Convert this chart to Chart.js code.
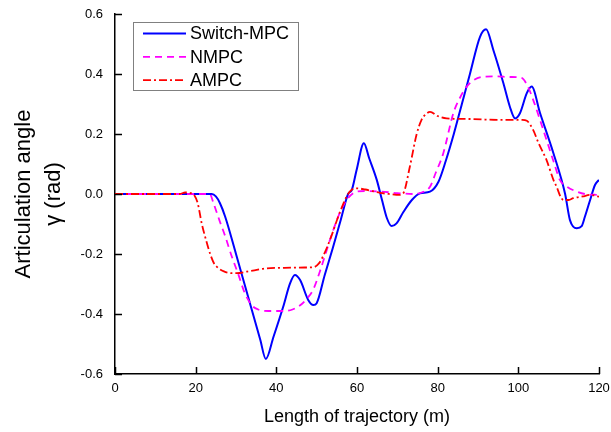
<!DOCTYPE html>
<html>
<head>
<meta charset="utf-8">
<script src="https://cdn.jsdelivr.net/npm/chart.js@4.4.1/dist/chart.umd.min.js"></script>
<style>
  html, body { margin: 0; padding: 0; background: #fff; }
  #wrap { width: 611px; height: 432px; }
</style>
</head>
<body>
<div id="wrap"><canvas id="angleChart" width="611" height="432"></canvas></div>
<script>
// axis ticks
const xTicks = [0, 20, 40, 60, 80, 100, 120];
const yTicks = [-0.6, -0.4, -0.2, 0.0, 0.2, 0.4, 0.6];

// Switch-MPC
const swX = [0, 24, 25, 26, 27.3, 30, 32, 34, 36, 37.4, 39.3, 41.7, 43.4, 44.6, 45.9, 47.9, 49.2, 50, 52, 54, 56, 57.8, 58.7, 59.9, 61.7, 63, 64.9, 66.2, 67.4, 68.6, 69.8, 71.5, 73.6, 75.6, 78.1, 80.2, 82, 84, 86, 88, 90.5, 92, 93.8, 96.3, 97.9, 99.2, 100.4, 102.1, 103.3, 105.4, 108.7, 111.6, 112.8, 114.5, 115.7, 116.5, 117.8, 119, 120];
const swY = [0, 0, -0.008, -0.03, -0.075, -0.2, -0.295, -0.39, -0.485, -0.55, -0.476, -0.376, -0.298, -0.27, -0.287, -0.353, -0.37, -0.364, -0.27, -0.18, -0.085, 0, 0.013, 0.08, 0.169, 0.12, 0.047, -0.02, -0.08, -0.107, -0.098, -0.06, -0.02, 0.002, 0.008, 0.041, 0.11, 0.2, 0.3, 0.4, 0.524, 0.549, 0.48, 0.369, 0.291, 0.252, 0.269, 0.336, 0.358, 0.269, 0.136, 0, -0.087, -0.114, -0.107, -0.076, -0.02, 0.03, 0.047];

// NMPC
const nmX = [0, 23.5, 24.4, 26, 27.3, 29, 30.5, 32.2, 34, 35.5, 38, 42, 44, 46, 47.5, 49.1, 51, 53.3, 55.5, 57.4, 59.9, 62, 66, 70, 74, 76, 78.1, 79.5, 81.4, 83.9, 85.5, 87.2, 89, 91.3, 94, 98, 100.8, 102.3, 103.7, 105.3, 107, 108.7, 110.3, 112, 114.5, 116.5, 120];
const nmY = [0, 0, -0.03, -0.092, -0.14, -0.21, -0.265, -0.331, -0.372, -0.385, -0.39, -0.39, -0.385, -0.37, -0.35, -0.32, -0.25, -0.153, -0.07, -0.02, 0.008, 0.01, 0.008, 0.003, 0, 0.005, 0.024, 0.07, 0.136, 0.27, 0.32, 0.358, 0.38, 0.391, 0.392, 0.39, 0.387, 0.36, 0.313, 0.25, 0.18, 0.11, 0.047, 0.025, 0.008, 0, -0.003];

// AMPC
const amX = [0, 16, 17.4, 19, 19.7, 20.5, 21.5, 22.5, 23.6, 24.5, 25.2, 27, 29, 30.2, 33, 37.6, 42, 47, 49.2, 50.5, 51.5, 53.3, 55.5, 57.4, 58.5, 59.9, 62, 65.7, 68, 70.5, 71.5, 73.1, 74.8, 76, 77, 78.1, 80, 82.2, 88, 95, 101, 102.1, 103.7, 105, 107, 108.7, 109.5, 110.5, 111.2, 112.5, 113.6, 116, 117.8, 119, 120];
const amY = [0, 0, 0.005, 0.002, -0.005, -0.03, -0.098, -0.15, -0.2, -0.23, -0.242, -0.258, -0.264, -0.264, -0.258, -0.248, -0.246, -0.245, -0.244, -0.232, -0.21, -0.153, -0.07, -0.009, 0.012, 0.019, 0.015, 0.004, 0, -0.003, 0.003, 0.091, 0.2, 0.247, 0.265, 0.274, 0.26, 0.252, 0.25, 0.247, 0.247, 0.244, 0.213, 0.17, 0.113, 0.047, 0.024, -0.01, -0.02, -0.02, -0.014, -0.008, -0.003, -0.005, -0.009];

const toPoints = (xs, ys) => xs.map((x, i) => ({ x: x, y: ys[i] }));

// ticks pointing into the plot area
const innerTicks = {
    id: 'innerTicks',
    afterDraw(chart) {
        const { ctx, chartArea, scales } = chart;
        ctx.save();
        ctx.strokeStyle = '#000';
        ctx.lineWidth = 1.5;
        ctx.beginPath();
        xTicks.forEach(v => {
            const px = Math.round(scales.x.getPixelForValue(v)) + 0.5;
            ctx.moveTo(px, chartArea.bottom);
            ctx.lineTo(px, chartArea.bottom - 7);
        });
        yTicks.forEach(v => {
            const py = Math.round(scales.y.getPixelForValue(v)) + 0.5;
            ctx.moveTo(chartArea.left, py);
            ctx.lineTo(chartArea.left + 7, py);
        });
        ctx.stroke();
        ctx.restore();
    }
};

// boxed legend with line samples
const lineLegend = {
    id: 'lineLegend',
    afterDraw(chart) {
        const ctx = chart.ctx;
        const box = { left: 133, top: 22, right: 298, bottom: 90 };
        ctx.save();
        ctx.fillStyle = '#fff';
        ctx.fillRect(box.left, box.top, box.right - box.left, box.bottom - box.top);
        ctx.strokeStyle = '#808080';
        ctx.lineWidth = 1;
        ctx.strokeRect(box.left + 0.5, box.top + 0.5, box.right - box.left, box.bottom - box.top);
        ctx.font = '18px "Liberation Sans", Arial, sans-serif';
        ctx.textBaseline = 'middle';
        ctx.fillStyle = '#000';
        chart.data.datasets.forEach((ds, i) => {
            const y = 33.5 + i * 23.3;
            ctx.beginPath();
            ctx.strokeStyle = ds.borderColor;
            ctx.lineWidth = ds.borderWidth;
            ctx.setLineDash(ds.borderDash || []);
            ctx.moveTo(143, y);
            ctx.lineTo(186, y);
            ctx.stroke();
            ctx.setLineDash([]);
            ctx.fillText(ds.label, 190, y + 1);
        });
        ctx.restore();
    }
};

const ctx = document.querySelector('#angleChart').getContext('2d');
new Chart(ctx, {
    type: 'line',
    data: {
        datasets: [{
            label: 'Switch-MPC',
            data: toPoints(swX, swY),
            borderColor: '#0000ff',
            borderWidth: 2,
            order: 3,
        }, {
            label: 'NMPC',
            data: toPoints(nmX, nmY),
            borderColor: '#ff00ff',
            borderWidth: 1.8,
            borderDash: [7, 5],
            order: 2,
        }, {
            label: 'AMPC',
            data: toPoints(amX, amY),
            borderColor: '#ff0000',
            borderWidth: 1.8,
            borderDash: [8, 3, 2, 3],
            order: 1,
        }]
    },
    options: {
        responsive: false,
        animation: false,
        devicePixelRatio: 1,
        layout: { padding: { top: 14, right: 12, left: 0, bottom: 0 } },
        elements: {
            point: { radius: 0 },
            line: { cubicInterpolationMode: 'monotone', fill: false }
        },
        plugins: {
            legend: { display: false },
            tooltip: { enabled: false }
        },
        scales: {
            x: {
                type: 'linear',
                min: 0,
                max: 120,
                afterBuildTicks: axis => { axis.ticks = xTicks.map(v => ({ value: v })); },
                afterFit: axis => {
                    axis.height = 58;
                    axis.paddingLeft = 0;
                    axis.paddingRight = 0;
                },
                grid: { display: false, drawTicks: false },
                border: { display: true, color: '#000', width: 1.5 },
                ticks: {
                    padding: 7,
                    color: '#000',
                    font: { family: '"Liberation Sans", Arial, sans-serif', size: 13 },
                    maxRotation: 0,
                    callback: v => String(v)
                },
                title: {
                    display: true,
                    text: 'Length of trajectory (m)',
                    color: '#000',
                    font: { family: '"Liberation Sans", Arial, sans-serif', size: 18 },
                    padding: { top: 0, bottom: 4 }
                }
            },
            y: {
                type: 'linear',
                min: -0.6,
                max: 0.6,
                afterBuildTicks: axis => { axis.ticks = yTicks.map(v => ({ value: v })); },
                afterFit: axis => {
                    axis.width = 115;
                    axis.paddingTop = 0;
                    axis.paddingBottom = 0;
                },
                grid: { display: false, drawTicks: false },
                border: { display: true, color: '#000', width: 1.5 },
                ticks: {
                    padding: 12,
                    color: '#000',
                    font: { family: '"Liberation Sans", Arial, sans-serif', size: 13 },
                    callback: v => v.toFixed(1)
                },
                title: {
                    display: true,
                    text: ['Articulation angle', 'γ (rad)'],
                    color: '#000',
                    font: { family: '"Liberation Sans", Arial, sans-serif', size: 22, lineHeight: 1.35 },
                    padding: { top: 9, bottom: 0 }
                }
            }
        }
    },
    plugins: [innerTicks, lineLegend]
});
</script>
</body>
</html>
